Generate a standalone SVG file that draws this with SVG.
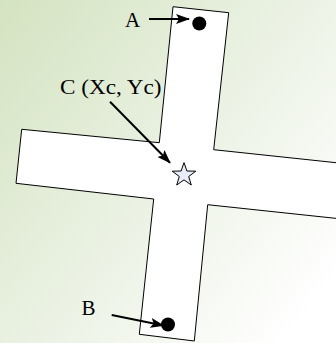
<svg xmlns="http://www.w3.org/2000/svg" width="336" height="343" viewBox="0 0 336 343">
<style>
.lbl{font-family:"Liberation Serif","Times New Roman",serif;font-size:21px;fill:#000}
.conn{stroke:#000;stroke-width:2;fill:none;marker-end:url(#ah)}
.dot{fill:#000}
</style>
<defs>
<linearGradient id="bg" x1="0" y1="0" x2="1" y2="0.8">
<stop offset="0" stop-color="#d4e3c1"/>
<stop offset="0.55" stop-color="#ebf2e4"/>
<stop offset="1" stop-color="#ffffff"/>
</linearGradient>
<marker id="ah" viewBox="0 0 14 10" refX="13" refY="5" markerWidth="14" markerHeight="10" markerUnits="userSpaceOnUse" orient="auto">
<path d="M0,0 L14,5 L0,10 L3,5 Z" fill="#000"/>
</marker>
</defs>
<rect width="336" height="343" fill="url(#bg)"/>
<g id="cross">
<polygon points="173,6.7 228.7,12.7 213.7,149.7 340,163.1 340,218.8 207.7,204.7 194.3,341 139.3,334.3 153.7,199 16,183.3 21.7,129.3 159.3,142.7" fill="#fff" stroke="#000" stroke-width="1"/>
</g>
<g id="nodeA">
<circle class="dot" cx="199.3" cy="23.5" r="7"/>
<text class="lbl" x="125" y="26.5">A</text>
</g>
<g id="nodeB">
<circle class="dot" cx="168" cy="324.5" r="7"/>
<text class="lbl" x="81.5" y="315">B</text>
</g>
<g id="nodeC">
<polygon points="184,162.6 186.9,171 195.8,171.2 188.7,176.5 191.3,185 184,179.9 176.7,185 179.3,176.5 172.2,171.2 181.1,171" fill="#e9edf7" stroke="#000" stroke-width="1"/>
<text class="lbl" x="60" y="94" textLength="101.5" lengthAdjust="spacingAndGlyphs">C (Xc, Yc)</text>
</g>
<g id="connectors">
<line class="conn" x1="149" y1="19" x2="189" y2="19"/>
<line class="conn" x1="110" y1="101.7" x2="170" y2="162.7"/>
<line class="conn" x1="111.7" y1="315" x2="163.5" y2="325.5"/>
</g>
</svg>
